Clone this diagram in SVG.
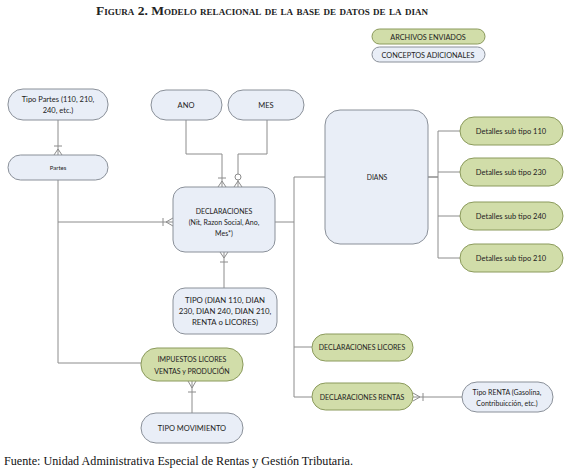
<svg xmlns="http://www.w3.org/2000/svg" width="568" height="471" viewBox="0 0 568 471">
<style>
.blue{fill:#e9eef7;stroke:#8a9099;stroke-width:1}
.green{fill:#d1dda9;stroke:#8b9a5c;stroke-width:1}
.t{font-family:Lato,"Open Sans","Liberation Sans",sans-serif;fill:#222;text-anchor:middle}
.c{fill:none;stroke:#8c8c8c;stroke-width:1}
.d{fill:none;stroke:#555;stroke-width:1}
</style>
<rect width="568" height="471" fill="#fff"/>
<text x="262" y="15" font-family="'Liberation Serif',serif" font-weight="bold" font-size="12" font-variant="small-caps" text-anchor="middle" textLength="332" lengthAdjust="spacingAndGlyphs" fill="#222">Figura 2. Modelo relacional de la base de datos de la dian</text>

<g id="legend-archivos"><rect class="green" x="372" y="29" width="113" height="15" rx="7.5"/><text class="t" x="428" y="39.5" font-size="7.3">ARCHIVOS ENVIADOS</text></g>
<g id="legend-conceptos"><rect class="blue" x="372" y="47" width="113" height="15" rx="7.5"/><text class="t" x="428" y="57.5" font-size="7.3">CONCEPTOS ADICIONALES</text></g>

<g id="connectors">
<path class="c" d="M58 120V155"/>
<path class="c" d="M54 146H62M58 149L54 155M58 149L62 155"/>
<path class="c" d="M58 180V363H141"/>
<path class="c" d="M58 222H173"/>
<path class="c" d="M163 218V226M166 222L173 218M166 222L173 226"/>
<path class="c" d="M186 120V154H222V187"/>
<path class="c" d="M218 178H226M222 181L218 187M222 181L226 187"/>
<path class="c" d="M267 120V154H238V187"/>
<circle cx="238" cy="177" r="3" fill="#fff" stroke="#8c8c8c"/>
<path class="c" d="M238 181L234 187M238 181L242 187"/>
<path class="c" d="M224 252V288"/>
<path class="c" d="M224 258L220 252M224 258L228 252M220 262H228"/>
<path class="c" d="M275 222H294"/>
<path class="c" d="M325 177H294V397H312"/>
<path class="c" d="M294 347H312"/>
<path class="d" d="M428 177H438"/>
<path class="c" d="M460 131H438V258H460M438 172H460M438 216H460"/>
<path class="c" d="M413 397H462"/>
<path class="c" d="M420 397L413 393M420 397L413 401M423 393V401"/>
<path class="c" d="M192 381V413"/>
<path class="c" d="M192 388L188 381M192 388L196 381M188 392H196"/>
</g>

<g id="tipo-partes"><rect class="blue" x="8" y="89" width="100" height="31" rx="15"/><text class="t" x="58" y="101.5" font-size="7.5">Tipo Partes (110, 210,</text><text class="t" x="58" y="113" font-size="7.5">240, etc.)</text></g>
<g id="partes"><rect class="blue" x="8" y="155" width="100" height="25" rx="12.5"/><text class="t" x="58" y="170" font-size="6">Partes</text></g>
<g id="ano"><rect class="blue" x="151" y="90" width="71" height="30" rx="15"/><text class="t" x="186" y="108" font-size="7.5">ANO</text></g>
<g id="mes"><rect class="blue" x="228" y="90" width="76" height="30" rx="15"/><text class="t" x="266" y="108" font-size="7.5">MES</text></g>
<g id="declaraciones"><rect class="blue" x="173" y="187" width="102" height="65" rx="12"/><text class="t" x="224" y="214" font-size="7">DECLARACIONES</text><text class="t" x="224" y="225" font-size="7">(Nit, Razon Social, Ano,</text><text class="t" x="224" y="236" font-size="7">Mes*)</text></g>
<g id="tipo"><rect class="blue" x="173" y="288" width="104" height="46" rx="12"/><text class="t" x="225" y="303" font-size="7.8">TIPO (DIAN 110, DIAN</text><text class="t" x="225" y="314" font-size="7.8">230, DIAN 240, DIAN 210,</text><text class="t" x="225" y="325" font-size="7.8">RENTA o LICORES)</text></g>
<g id="dians"><rect class="blue" x="325" y="110" width="103" height="134" rx="15"/><text class="t" x="377" y="180" font-size="6.8">DIANS</text></g>
<g id="det110"><rect class="green" x="460" y="117" width="103" height="28" rx="14"/><text class="t" x="511" y="134" font-size="7.5">Detalles sub tipo 110</text></g>
<g id="det230"><rect class="green" x="460" y="158" width="103" height="28" rx="14"/><text class="t" x="511" y="175" font-size="7.5">Detalles sub tipo 230</text></g>
<g id="det240"><rect class="green" x="460" y="202" width="103" height="28" rx="14"/><text class="t" x="511" y="219" font-size="7.5">Detalles sub tipo 240</text></g>
<g id="det210"><rect class="green" x="460" y="244" width="103" height="28" rx="14"/><text class="t" x="511" y="261" font-size="7.5">Detalles sub tipo 210</text></g>
<g id="impuestos"><rect class="green" x="141" y="348" width="102" height="33" rx="16"/><text class="t" x="192" y="362" font-size="7">IMPUESTOS LICORES</text><text class="t" x="192" y="374" font-size="7">VENTAS y PRODUCIÓN</text></g>
<g id="tipo-movimiento"><rect class="blue" x="141" y="413" width="102" height="30" rx="15"/><text class="t" x="192" y="431" font-size="7.5">TIPO MOVIMIENTO</text></g>
<g id="decl-licores"><rect class="green" x="312" y="334" width="101" height="27" rx="13.5"/><text class="t" x="362" y="350" font-size="7">DECLARACIONES LICORES</text></g>
<g id="decl-rentas"><rect class="green" x="312" y="383" width="101" height="27" rx="13.5"/><text class="t" x="362" y="400" font-size="7">DECLARACIONES RENTAS</text></g>
<g id="tipo-renta"><rect class="blue" x="462" y="382" width="91" height="30" rx="15"/><text class="t" x="507" y="394.5" font-size="7">Tipo RENTA (Gasolina,</text><text class="t" x="507" y="405.5" font-size="7">Contribuicción, etc.)</text></g>

<text x="4" y="465" font-family="'Liberation Serif',serif" font-size="12" textLength="349" lengthAdjust="spacingAndGlyphs" fill="#111">Fuente: Unidad Administrativa Especial de Rentas y Gestión Tributaria.</text>
</svg>
